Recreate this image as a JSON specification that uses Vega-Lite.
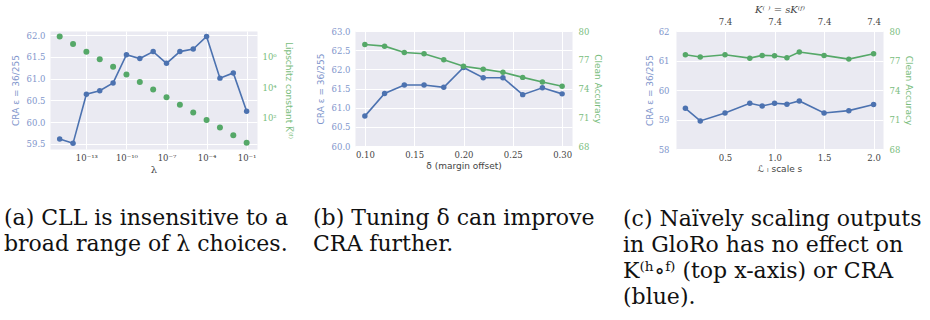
{
  "$schema": "https://vega.github.io/schema/vega-lite/v6.json",
  "padding": {"left": 3, "top": 3, "right": 0, "bottom": 0},
  "background": "white",
  "spacing": 19,
  "datasets": {
    "lam": [
      {"lam": 1e-15, "cra": 59.61, "lip": 22400000},
      {"lam": 1e-14, "cra": 59.51, "lip": 7080000},
      {"lam": 1e-13, "cra": 60.64, "lip": 2240000},
      {"lam": 1e-12, "cra": 60.72, "lip": 708000},
      {"lam": 1e-11, "cra": 60.9, "lip": 224000},
      {"lam": 1e-10, "cra": 61.55, "lip": 70800},
      {"lam": 1e-9, "cra": 61.46, "lip": 22400},
      {"lam": 1e-8, "cra": 61.62, "lip": 7080},
      {"lam": 1e-7, "cra": 61.35, "lip": 2240},
      {"lam": 1e-6, "cra": 61.62, "lip": 708},
      {"lam": 1e-5, "cra": 61.68, "lip": 224},
      {"lam": 1e-4, "cra": 61.97, "lip": 70.8},
      {"lam": 1e-3, "cra": 61.01, "lip": 22.4},
      {"lam": 1e-2, "cra": 61.13, "lip": 7.08},
      {"lam": 1e-1, "cra": 60.25, "lip": 2.24}
    ],
    "delta": [
      {"d": 0.10, "cra": 60.78, "acc": 78.59},
      {"d": 0.12, "cra": 61.37, "acc": 78.42},
      {"d": 0.14, "cra": 61.59, "acc": 77.76},
      {"d": 0.16, "cra": 61.59, "acc": 77.63},
      {"d": 0.18, "cra": 61.53, "acc": 77.0},
      {"d": 0.20, "cra": 62.05, "acc": 76.32},
      {"d": 0.22, "cra": 61.78, "acc": 76.02},
      {"d": 0.24, "cra": 61.78, "acc": 75.69},
      {"d": 0.26, "cra": 61.34, "acc": 75.16},
      {"d": 0.28, "cra": 61.52, "acc": 74.67},
      {"d": 0.30, "cra": 61.36, "acc": 74.24}
    ],
    "scale": [
      {"s": 0.1, "cra": 59.38, "acc": 77.58},
      {"s": 0.25, "cra": 58.95, "acc": 77.35},
      {"s": 0.5, "cra": 59.22, "acc": 77.58},
      {"s": 0.75, "cra": 59.55, "acc": 77.24},
      {"s": 0.875, "cra": 59.46, "acc": 77.52},
      {"s": 1.0, "cra": 59.55, "acc": 77.48},
      {"s": 1.125, "cra": 59.52, "acc": 77.28},
      {"s": 1.25, "cra": 59.63, "acc": 77.86},
      {"s": 1.5, "cra": 59.22, "acc": 77.52},
      {"s": 1.75, "cra": 59.3, "acc": 77.14},
      {"s": 2.0, "cra": 59.51, "acc": 77.68}
    ]
  },
  "hconcat": [
    {
      "width": 207,
      "height": 118,
      "data": {"name": "lam"},
      "title": {"text": ["(a) CLL is insensitive to a", "broad range of λ choices."], "orient": "bottom", "anchor": "start", "frame": "group", "dx": -46, "offset": 33},
      "layer": [
        {
          "mark": {"type": "line", "color": "#4c72b0", "strokeWidth": 1.6, "point": {"filled": true, "size": 30, "color": "#4c72b0", "opacity": 1}},
          "encoding": {
            "x": {"field": "lam", "type": "quantitative", "scale": {"type": "log", "domain": [1.884e-16, 0.5957], "nice": false},
              "axis": {"orient": "bottom", "values": [1e-13, 1e-10, 1e-7, 1e-4, 1e-1], "labelExpr": "datum.value < 1e-12 ? '10⁻¹³' : datum.value < 1e-9 ? '10⁻¹⁰' : datum.value < 1e-6 ? '10⁻⁷' : datum.value < 1e-3 ? '10⁻⁴' : '10⁻¹'", "title": "λ", "titleFont": "DejaVu Serif", "titleFontSize": 10, "labelPadding": 4, "titlePadding": 3, "grid": true}},
            "y": {"field": "cra", "type": "quantitative", "scale": {"domain": [59.38, 62.094], "nice": false, "zero": false},
              "axis": {"orient": "left", "values": [59.5, 60, 60.5, 61, 61.5, 62], "format": ".1f", "title": "CRA ε = 36/255", "labelColor": "#8196cc", "titleColor": "#8196cc", "labelPadding": 5, "titlePadding": 6, "grid": true}}
          }
        },
        {
          "mark": {"type": "point", "filled": true, "size": 36, "color": "#55a868", "opacity": 1},
          "encoding": {
            "x": {"field": "lam", "type": "quantitative"},
            "y": {"field": "lip", "type": "quantitative", "scale": {"type": "log", "domain": [0.871, 51300000], "nice": false},
              "axis": {"orient": "right", "values": [100, 10000, 1000000], "labelExpr": "datum.value < 1000 ? '10²' : datum.value < 100000 ? '10⁴' : '10⁶'", "title": "Lipschitz constant K̅⁽ᶠ⁾", "labelColor": "#79bd7d", "titleColor": "#79bd7d", "grid": false, "labelPadding": 5, "titlePadding": 7}}
          }
        }
      ],
      "resolve": {"scale": {"y": "independent"}}
    },
    {
      "width": 217,
      "height": 115,
      "data": {"name": "delta"},
      "title": {"text": ["(b) Tuning δ can improve", "CRA further."], "orient": "bottom", "anchor": "start", "frame": "group", "dx": -42, "offset": 37},
      "layer": [
        {
          "mark": {"type": "line", "color": "#4c72b0", "strokeWidth": 1.6, "point": {"filled": true, "size": 30, "color": "#4c72b0", "opacity": 1}},
          "encoding": {
            "x": {"field": "d", "type": "quantitative", "scale": {"domain": [0.09, 0.31], "nice": false, "zero": false},
              "axis": {"orient": "bottom", "values": [0.1, 0.15, 0.2, 0.25, 0.3], "format": ".2f", "title": "δ (margin offset)", "labelPadding": 4, "titlePadding": 3, "grid": true}},
            "y": {"field": "cra", "type": "quantitative", "scale": {"domain": [60, 63], "nice": false, "zero": false},
              "axis": {"orient": "left", "values": [60, 60.5, 61, 61.5, 62, 62.5, 63], "format": ".1f", "title": "CRA ε = 36/255", "labelColor": "#8196cc", "titleColor": "#8196cc", "labelPadding": 5, "titlePadding": 6, "grid": true}}
          }
        },
        {
          "mark": {"type": "line", "color": "#55a868", "strokeWidth": 1.6, "point": {"filled": true, "size": 30, "color": "#55a868", "opacity": 1}},
          "encoding": {
            "x": {"field": "d", "type": "quantitative"},
            "y": {"field": "acc", "type": "quantitative", "scale": {"domain": [68, 80], "nice": false, "zero": false},
              "axis": {"orient": "right", "values": [68, 71, 74, 77, 80], "title": "Clean Accuracy", "labelColor": "#79bd7d", "titleColor": "#79bd7d", "grid": false, "labelPadding": 6, "titlePadding": 4}}
          }
        }
      ],
      "resolve": {"scale": {"y": "independent"}}
    },
    {
      "width": 207,
      "height": 118,
      "data": {"name": "scale"},
      "title": {"text": ["(c) Naïvely scaling outputs", "in GloRo has no effect on", "K⁽ʰ∘ᶠ⁾ (top x-axis) or CRA", "(blue)."], "orient": "bottom", "anchor": "start", "frame": "group", "dx": -53, "offset": 35},
      "layer": [
        {
          "mark": {"type": "line", "color": "#4c72b0", "strokeWidth": 1.6, "point": {"filled": true, "size": 30, "color": "#4c72b0", "opacity": 1}},
          "encoding": {
            "x": {"field": "s", "type": "quantitative", "scale": {"domain": [0.005, 2.095], "nice": false, "zero": false},
              "axis": {"orient": "bottom", "values": [0.5, 1, 1.5, 2], "format": ".1f", "title": "ℒ ₗ    scale s", "labelPadding": 4, "titlePadding": 3, "grid": true}},
            "y": {"field": "cra", "type": "quantitative", "scale": {"domain": [58, 62], "nice": false, "zero": false},
              "axis": {"orient": "left", "values": [58, 59, 60, 61, 62], "format": "d", "title": "CRA ε = 36/255", "labelColor": "#8196cc", "titleColor": "#8196cc", "labelPadding": 7, "titlePadding": 4, "grid": true}}
          }
        },
        {
          "mark": {"type": "line", "color": "#55a868", "strokeWidth": 1.6, "point": {"filled": true, "size": 30, "color": "#55a868", "opacity": 1}},
          "encoding": {
            "x": {"field": "s", "type": "quantitative", "axis": {"orient": "top", "values": [0.5, 1, 1.5, 2], "labelExpr": "'7.4'", "grid": false, "title": "K⁽ ⁾ = sK⁽ᶠ⁾", "titleFont": "DejaVu Serif", "titleFontStyle": "italic", "titleFontSize": 10, "labelPadding": 5, "titlePadding": 3}},
            "y": {"field": "acc", "type": "quantitative", "scale": {"domain": [68, 80], "nice": false, "zero": false},
              "axis": {"orient": "right", "values": [68, 71, 74, 77, 80], "title": "Clean Accuracy", "labelColor": "#79bd7d", "titleColor": "#79bd7d", "grid": false, "labelPadding": 6, "titlePadding": 4}}
          }
        }
      ],
      "resolve": {"scale": {"y": "independent"}, "axis": {"x": "independent"}}
    }
  ],
  "config": {
    "view": {"fill": "#eaeaf2", "stroke": "transparent"},
    "axis": {"domain": false, "ticks": false, "gridColor": "white", "gridWidth": 1, "labelFont": "DejaVu Serif", "labelFontSize": 8.5, "labelColor": "#444444", "titleFont": "DejaVu Sans", "titleFontSize": 9, "titleFontWeight": "normal", "titleColor": "#444444"},
    "title": {"font": "DejaVu Serif", "fontSize": 22, "fontWeight": "normal", "color": "#111111", "lineHeight": 26}
  }
}
